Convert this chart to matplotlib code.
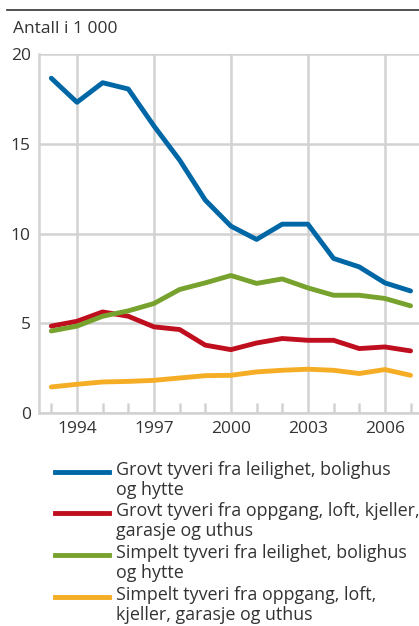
import matplotlib
matplotlib.use("Agg")
import matplotlib.pyplot as plt
import numpy as np

plt.rcParams['font.family'] = ['Open Sans', 'DejaVu Sans']

years = list(range(1993, 2008))
grovt_leil = [18.65, 17.31, 18.40, 18.05, 15.99, 14.09, 11.86, 10.41, 9.67, 10.52, 10.52, 8.61, 8.14, 7.25, 6.80]
grovt_oppg = [4.84, 5.11, 5.63, 5.39, 4.80, 4.65, 3.78, 3.53, 3.90, 4.15, 4.05, 4.05, 3.59, 3.68, 3.46]
simp_leil = [4.57, 4.84, 5.39, 5.69, 6.10, 6.88, 7.25, 7.66, 7.22, 7.47, 6.97, 6.56, 6.56, 6.38, 5.97]
simp_oppg = [1.45, 1.60, 1.73, 1.76, 1.82, 1.95, 2.08, 2.10, 2.29, 2.38, 2.44, 2.38, 2.20, 2.42, 2.10]

labels = ["Grovt tyveri fra leilighet, bolighus\nog hytte",
          "Grovt tyveri fra oppgang, loft, kjeller,\ngarasje og uthus",
          "Simpelt tyveri fra leilighet, bolighus\nog hytte",
          "Simpelt tyveri fra oppgang, loft,\nkjeller, garasje og uthus"]
colors = ['#0067a6', '#bf0f1f', '#77a22e', '#f4ad24']
xticks = [1994, 1997, 2000, 2003, 2006]
yticks = [0, 5, 10, 15, 20]

W, H = 419, 626
fig = plt.figure(figsize=(W / 100, H / 100), dpi=100)
ax = fig.add_axes([39 / W, 1 - 413 / H, (W - 39) / W, (413 - 54) / H])

gray = '#d2d2d2'
for s, c in zip([grovt_leil, grovt_oppg, simp_leil, simp_oppg], colors):
    ax.plot(years, s, color=c, lw=3.5, solid_capstyle='round', solid_joinstyle='round', zorder=3)

ax.set_xlim(1992.52, 2007.33)
ax.set_ylim(0, 20)
ax.set_yticks(yticks)
ax.set_xticks(xticks)
ax.set_xticks(years, minor=True)
ax.grid(True, which='major', color=gray, lw=1.8)
for sp in ['top', 'right']:
    ax.spines[sp].set_visible(False)
for sp in ['left', 'bottom']:
    ax.spines[sp].set_color(gray)
    ax.spines[sp].set_linewidth(1.8)
ax.tick_params(axis='y', length=0, pad=6, labelsize=12.5, labelcolor='#333333')
ax.tick_params(axis='x', which='major', length=0, pad=6, labelsize=12.5, labelcolor='#333333')
ax.tick_params(axis='x', which='minor', direction='in', length=7, width=1.8, color=gray)

fig.text(13 / W, 1 - 29 / H, "Antall i 1 000", fontsize=12.5, color='#333333', va='center', ha='left')
fig.add_artist(plt.Line2D([7 / W, 1], [1 - 10 / H, 1 - 10 / H], color='#333333', lw=1.2))

ly = [472, 513, 555, 597]
for y, c, lab in zip(ly, colors, labels):
    fig.add_artist(plt.Line2D([55 / W, 109 / W], [1 - y / H, 1 - y / H], color=c, lw=3.5))
    fig.text(116 / W, 1 - (y - 11) / H, lab, fontsize=12.9, color='#333333', va='top', ha='left',
             linespacing=1.15)

fig.savefig("out.png", dpi=100)
